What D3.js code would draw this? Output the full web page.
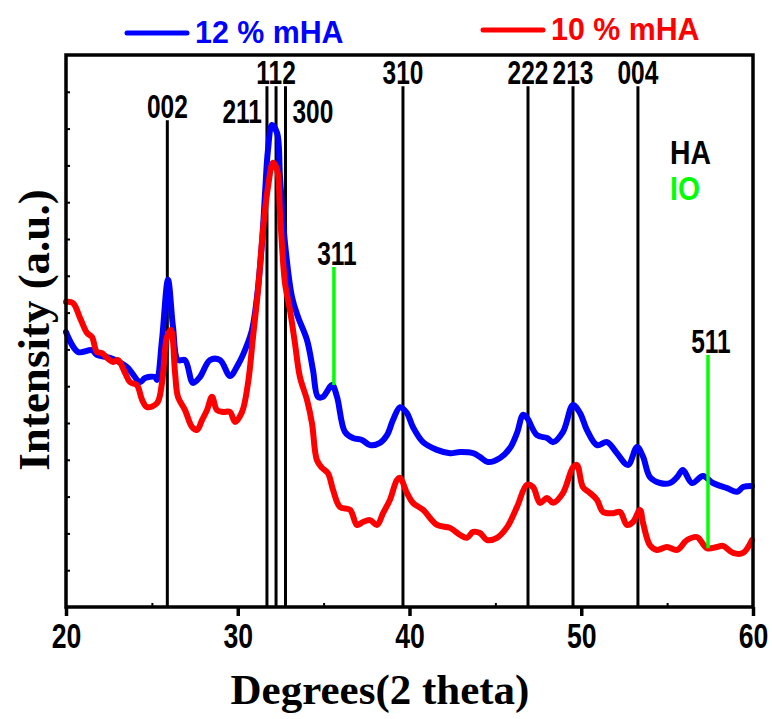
<!DOCTYPE html>
<html>
<head>
<meta charset="utf-8">
<script src="https://cdn.jsdelivr.net/npm/d3@7"></script>
<style>
  html, body { margin: 0; padding: 0; background: #fff; }
  svg { display: block; }
  .sans { font-family: "Liberation Sans", Arial, sans-serif; font-weight: bold; }
  .serif { font-family: "Liberation Serif", "Times New Roman", serif; font-weight: bold; }
</style>
</head>
<body>
<svg id="chart" width="772" height="719"></svg>
<script>
// ---- data (2θ in degrees, intensity in a.u.) ----
const theta12 = [20.0,20.7,21.51,21.8,22.56,23.55,24.31,24.6,25.18,25.3,25.59,25.94,26.23,26.52,26.93,27.39,27.8,28.38,28.97,29.55,30.01,30.42,30.83,31.12,31.41,31.59,31.76,31.99,32.29,32.46,32.75,33.16,33.51,34.03,34.38,34.67,34.96,35.49,35.78,36.24,36.71,37.23,37.7,38.28,38.69,39.04,39.45,39.85,40.2,40.79,41.6,42.36,42.94,43.7,44.1,44.57,45.27,45.85,46.26,46.61,46.84,47.42,48.01,48.36,48.94,49.52,49.93,50.33,50.92,51.5,52.08,52.72,53.25,53.6,54.0,54.59,55.17,55.58,55.92,56.45,57.09,57.67,58.49,59.07,59.42,59.94];
const int12 = [7.47,6.93,6.98,6.85,6.77,6.52,6.11,6.22,6.25,6.17,7.26,8.89,7.61,6.71,6.71,6.09,6.25,6.71,6.71,6.28,6.58,6.98,7.53,8.42,9.89,11.25,12.42,13.10,12.88,11.68,9.89,8.42,7.88,7.26,6.44,5.71,5.71,6.03,5.71,4.76,4.59,4.54,4.40,4.46,4.67,5.08,5.43,5.27,4.89,4.48,4.27,4.18,4.21,4.18,4.08,3.94,4.05,4.32,4.73,5.22,5.14,4.67,4.59,4.48,4.76,5.49,5.27,4.81,4.40,4.48,4.18,3.86,4.35,4.08,3.53,3.37,3.37,3.53,3.72,3.37,3.56,3.37,3.23,3.13,3.26,3.29];

const theta10 = [20.0,20.41,20.82,21.22,21.51,21.8,22.1,22.39,22.74,23.03,23.44,23.73,24.13,24.43,24.72,25.3,25.59,25.88,26.11,26.35,26.52,26.93,27.34,27.63,27.92,28.21,28.5,28.79,29.14,29.55,29.84,30.25,30.6,30.89,31.18,31.47,31.76,32.05,32.29,32.46,32.75,33.04,33.33,33.62,34.03,34.32,34.61,34.91,35.25,35.55,35.95,36.54,36.94,37.29,37.7,38.11,38.46,38.86,39.27,39.45,39.85,40.2,40.79,41.6,42.36,42.94,43.35,43.7,44.1,44.51,45.09,45.68,46.26,46.84,47.19,47.6,48.01,48.36,48.94,49.52,49.75,50.1,50.51,50.92,51.27,51.85,52.26,52.66,53.01,53.42,53.6,54.0,54.41,54.99,55.58,56.16,56.74,57.32,57.9,58.25,58.84,59.42,59.94];
const int10 = [8.29,8.26,7.85,7.45,7.34,6.93,6.90,6.77,6.66,6.71,6.36,6.11,6.03,5.63,5.43,5.54,6.09,7.34,7.53,6.36,5.71,5.35,4.89,4.81,5.08,5.35,5.71,5.35,5.30,5.30,5.03,5.30,6.09,7.34,8.61,10.24,11.41,12.07,11.88,10.71,8.80,8.07,7.17,6.25,5.63,5.00,3.99,3.78,3.64,3.18,2.72,2.64,2.23,2.31,2.36,2.23,2.55,2.91,3.45,3.51,3.10,2.83,2.64,2.23,2.15,1.96,1.88,2.04,2.01,1.82,1.88,2.17,2.72,3.32,3.26,2.83,2.96,2.83,3.10,3.80,3.86,3.26,3.10,2.91,2.58,2.55,2.58,2.23,2.31,2.64,2.28,1.68,1.55,1.63,1.55,1.82,1.90,1.60,1.63,1.66,1.47,1.47,1.82];

const seriesNames = ["12 % mHA", "10 % mHA"];
const seriesColors = ["#0000ff", "#ff0000"];

// HA reflections
const haLabels = ["002", "211", "112", "300", "310", "222", "213", "004"];
const haPos    = [25.9, 31.7, 32.23, 32.78, 39.62, 46.9, 49.52, 53.3];
const haTop    = [13.23, 14.15, 14.15, 14.15, 14.15, 14.15, 14.15, 14.15];
// IO reflections
const ioLabels = ["311", "511"];
const ioPos    = [35.6, 57.38];
const ioTop    = [9.24, 6.85];
const ioBottom = [6.03, 1.60];

const xTicks = [20, 30, 40, 50, 60];
const xMinorTicks = [25, 35, 45, 55];
const yTicks = d3.range(1, 15);

// ---- layout ----
const svg = d3.select("#chart");
const L = 66, R = 753, T = 55, B = 607;
const x = d3.scaleLinear().domain([20, 60]).range([L, R]);
const y = d3.scaleLinear().domain([0, 15]).range([B, T]);

function label(parent, str, px, py, size, anchor, fill, sx) {
  return parent.append("text")
    .attr("class", "sans")
    .attr("font-size", size)
    .attr("text-anchor", anchor)
    .attr("fill", fill)
    .attr("transform", `translate(${px},${py}) scale(${sx},1)`)
    .text(str);
}

const plot = svg.append("g");

// reference lines (HA, black)
const haData = haLabels.map((l, i) => ({ label: l, pos: haPos[i], top: haTop[i] }));
plot.selectAll("line.ha").data(haData).join("line")
  .attr("x1", d => x(d.pos)).attr("x2", d => x(d.pos))
  .attr("y1", d => y(d.top)).attr("y2", y(0))
  .attr("stroke", "#000").attr("stroke-width", 3);

// curves
const line = d3.line().x(d => x(d[0])).y(d => y(d[1])).curve(d3.curveCatmullRom.alpha(0.5));
const curves = [d3.zip(theta12, int12), d3.zip(theta10, int10)];
plot.selectAll("path.curve").data(curves).join("path")
  .attr("d", line)
  .attr("fill", "none")
  .attr("stroke", (d, i) => seriesColors[i])
  .attr("stroke-width", 6)
  .attr("stroke-linejoin", "round")
  .attr("stroke-linecap", "round");

// IO lines (green)
const ioData = ioLabels.map((l, i) => ({ label: l, pos: ioPos[i], top: ioTop[i], bottom: ioBottom[i] }));
plot.selectAll("line.io").data(ioData).join("line")
  .attr("x1", d => x(d.pos)).attr("x2", d => x(d.pos))
  .attr("y1", d => y(d.top)).attr("y2", d => y(d.bottom))
  .attr("stroke", "#00ff00").attr("stroke-width", 3.5);

// HA labels
const LS = 34, LX = 0.72;
haData.forEach(d => {
  const px = x(d.pos);
  if (d.label === "211") label(plot, d.label, px - 5, y(d.top) + 37, LS, "end", "#000", LX);
  else if (d.label === "300") label(plot, d.label, px + 7, y(d.top) + 37, LS, "start", "#000", LX);
  else label(plot, d.label, px, y(d.top) - 2, LS, "middle", "#000", LX);
});

// IO labels
ioData.forEach(d => {
  label(plot, d.label, x(d.pos) + 3, y(d.top) - 2, LS, "middle", "#000", LX);
});

// HA / IO key
label(svg, "HA", 670, 164, 33, "start", "#000", 0.86);
label(svg, "IO", 670, 200, 33, "start", "#00ff00", 0.86);

// frame
svg.append("rect").attr("x", L).attr("y", T).attr("width", R - L).attr("height", B - T)
  .attr("fill", "none").attr("stroke", "#000").attr("stroke-width", 3.5);

// x axis
const xAxis = svg.append("g").attr("transform", `translate(0,${B})`)
  .call(d3.axisBottom(x).tickValues(xTicks).tickSize(9).tickFormat(d3.format("d")));
xAxis.select(".domain").remove();
xAxis.selectAll(".tick line").attr("stroke", "#000").attr("stroke-width", 3.5);
xAxis.selectAll(".tick text")
  .attr("class", "sans").attr("font-size", 36).attr("fill", "#000")
  .attr("y", null).attr("dy", null)
  .attr("transform", "translate(0,41) scale(0.74,1)");

const xMinor = svg.append("g").attr("transform", `translate(0,${B})`)
  .call(d3.axisTop(x).tickValues(xMinorTicks).tickSize(4).tickFormat(""));
xMinor.select(".domain").remove();
xMinor.selectAll(".tick line").attr("stroke", "#000").attr("stroke-width", 2);

// y axis (ticks only, inward)
const yAxis = svg.append("g").attr("transform", `translate(${L},0)`)
  .call(d3.axisRight(y).tickValues(yTicks).tickSize(4).tickFormat(""));
yAxis.select(".domain").remove();
yAxis.selectAll(".tick line").attr("stroke", "#000").attr("stroke-width", 2);

// axis titles
svg.append("text").attr("class", "serif").attr("font-size", 45)
  .attr("text-anchor", "middle")
  .attr("transform", `translate(49,${330}) rotate(-90)`)
  .text("Intensity (a.u.)");
svg.append("text").attr("class", "serif").attr("font-size", 43)
  .attr("text-anchor", "middle")
  .attr("x", 380).attr("y", 704)
  .text("Degrees(2 theta)");

// legend
const legendX = [127, 483];
const legendY = [33, 30];
seriesNames.forEach((name, i) => {
  svg.append("line")
    .attr("x1", legendX[i]).attr("x2", legendX[i] + 60)
    .attr("y1", legendY[i]).attr("y2", legendY[i])
    .attr("stroke", seriesColors[i]).attr("stroke-width", 5).attr("stroke-linecap", "round");
  label(svg, name, legendX[i] + 68, legendY[i] + 10, 31, "start", seriesColors[i], 0.98);
});
</script>
</body>
</html>
